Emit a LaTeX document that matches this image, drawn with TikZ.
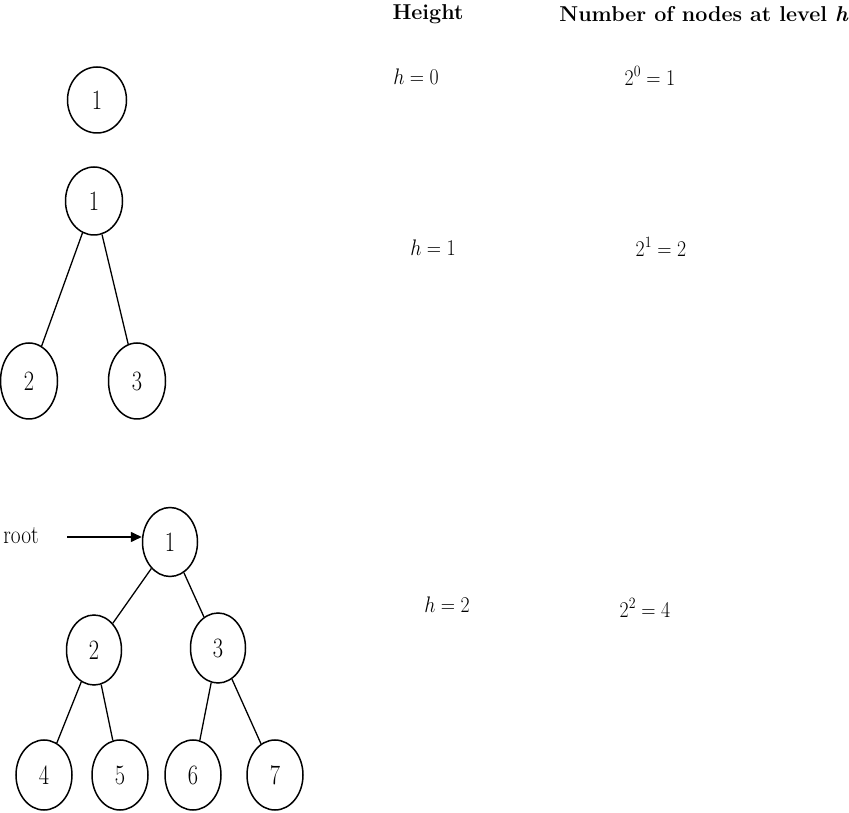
\RequirePackage{fix-cm}
\documentclass[tikz,border=0pt]{standalone}
\usepackage{amsmath}
\usepackage{graphicx}
\usetikzlibrary{shapes.geometric,arrows.meta}
\newcommand{\cnum}[1]{\scalebox{0.8}[1]{#1}}
\newcommand{\mlab}[1]{\scalebox{0.88}[1]{#1}}
\tikzset{
  tnode/.style={draw, ellipse, line width=1.5pt, inner sep=0pt,
    minimum width=57pt, minimum height=68pt, font=\fontsize{28}{32}\selectfont},
  lbl/.style={inner sep=0pt, font=\fontsize{22.5}{26}\selectfont},
  head/.style={inner sep=0pt, font=\fontsize{21.5}{25}\selectfont\bfseries},
  edge/.style={line width=1.3pt},
}
\begin{document}
\begin{tikzpicture}[x=1pt,y=1pt]
\useasboundingbox (0,0) rectangle (849,812);
% headers
\node[head] (hh) at (428,798) {Height};
\node[head, anchor=east] (hn) at (848,798) {Number of nodes at level {\itshape h}};
% labels
\node[lbl] (h0) at (416,735) {\mlab{$h = 0$}};
\node[lbl] (n0) at (650,736) {\mlab{$2^0 = 1$}};
\node[lbl] (h1) at (433,564) {\mlab{$h = 1$}};
\node[lbl] (n1) at (661,565) {\mlab{$2^1 = 2$}};
\node[lbl] (h2) at (447,207) {\mlab{$h = 2$}};
\node[lbl] (n2) at (645,204) {\mlab{$2^2 = 4$}};
% tree h=0
\node[tnode, minimum width=59pt, minimum height=66pt] (a1) at (97,712) {\cnum{1}};
% tree h=1
\node[tnode, minimum height=68pt] (b1) at (94,611) {\cnum{1}};
\node[tnode, minimum height=76pt] (b2) at (29,431) {\cnum{2}};
\node[tnode, minimum height=76pt] (b3) at (137,431) {\cnum{3}};
\draw[edge] (b1) -- (b2);
\draw[edge] (b1) -- (b3);
% tree h=2
\node[tnode, minimum width=55pt, minimum height=69pt] (c1) at (170,270) {\cnum{1}};
\node[tnode, minimum width=55pt, minimum height=70pt] (c2) at (94,162) {\cnum{2}};
\node[tnode, minimum width=55pt, minimum height=70pt] (c3) at (218,164) {\cnum{3}};
\node[tnode, minimum width=56pt, minimum height=70pt] (c4) at (44,37) {\cnum{4}};
\node[tnode, minimum width=56pt, minimum height=70pt] (c5) at (120,37) {\cnum{5}};
\node[tnode, minimum width=56pt, minimum height=70pt] (c6) at (193,37) {\cnum{6}};
\node[tnode, minimum width=56pt, minimum height=70pt] (c7) at (275,37) {\cnum{7}};
\draw[edge] (c1) -- (c2);
\draw[edge] (c1) -- (c3);
\draw[edge] (c2) -- (c4);
\draw[edge] (c2) -- (c5);
\draw[edge] (c3) -- (c6);
\draw[edge] (c3) -- (c7);
% root pointer
\node[inner sep=0pt, font=\fontsize{26}{30}\selectfont] (rt) at (21,276) {\scalebox{0.82}[1]{root}};
\coordinate (rs) at (67,275);
\draw[line width=1.6pt, -{Triangle[length=11pt,width=10pt]}] (rs) -- (rs -| c1.west);
\end{tikzpicture}
\end{document}
